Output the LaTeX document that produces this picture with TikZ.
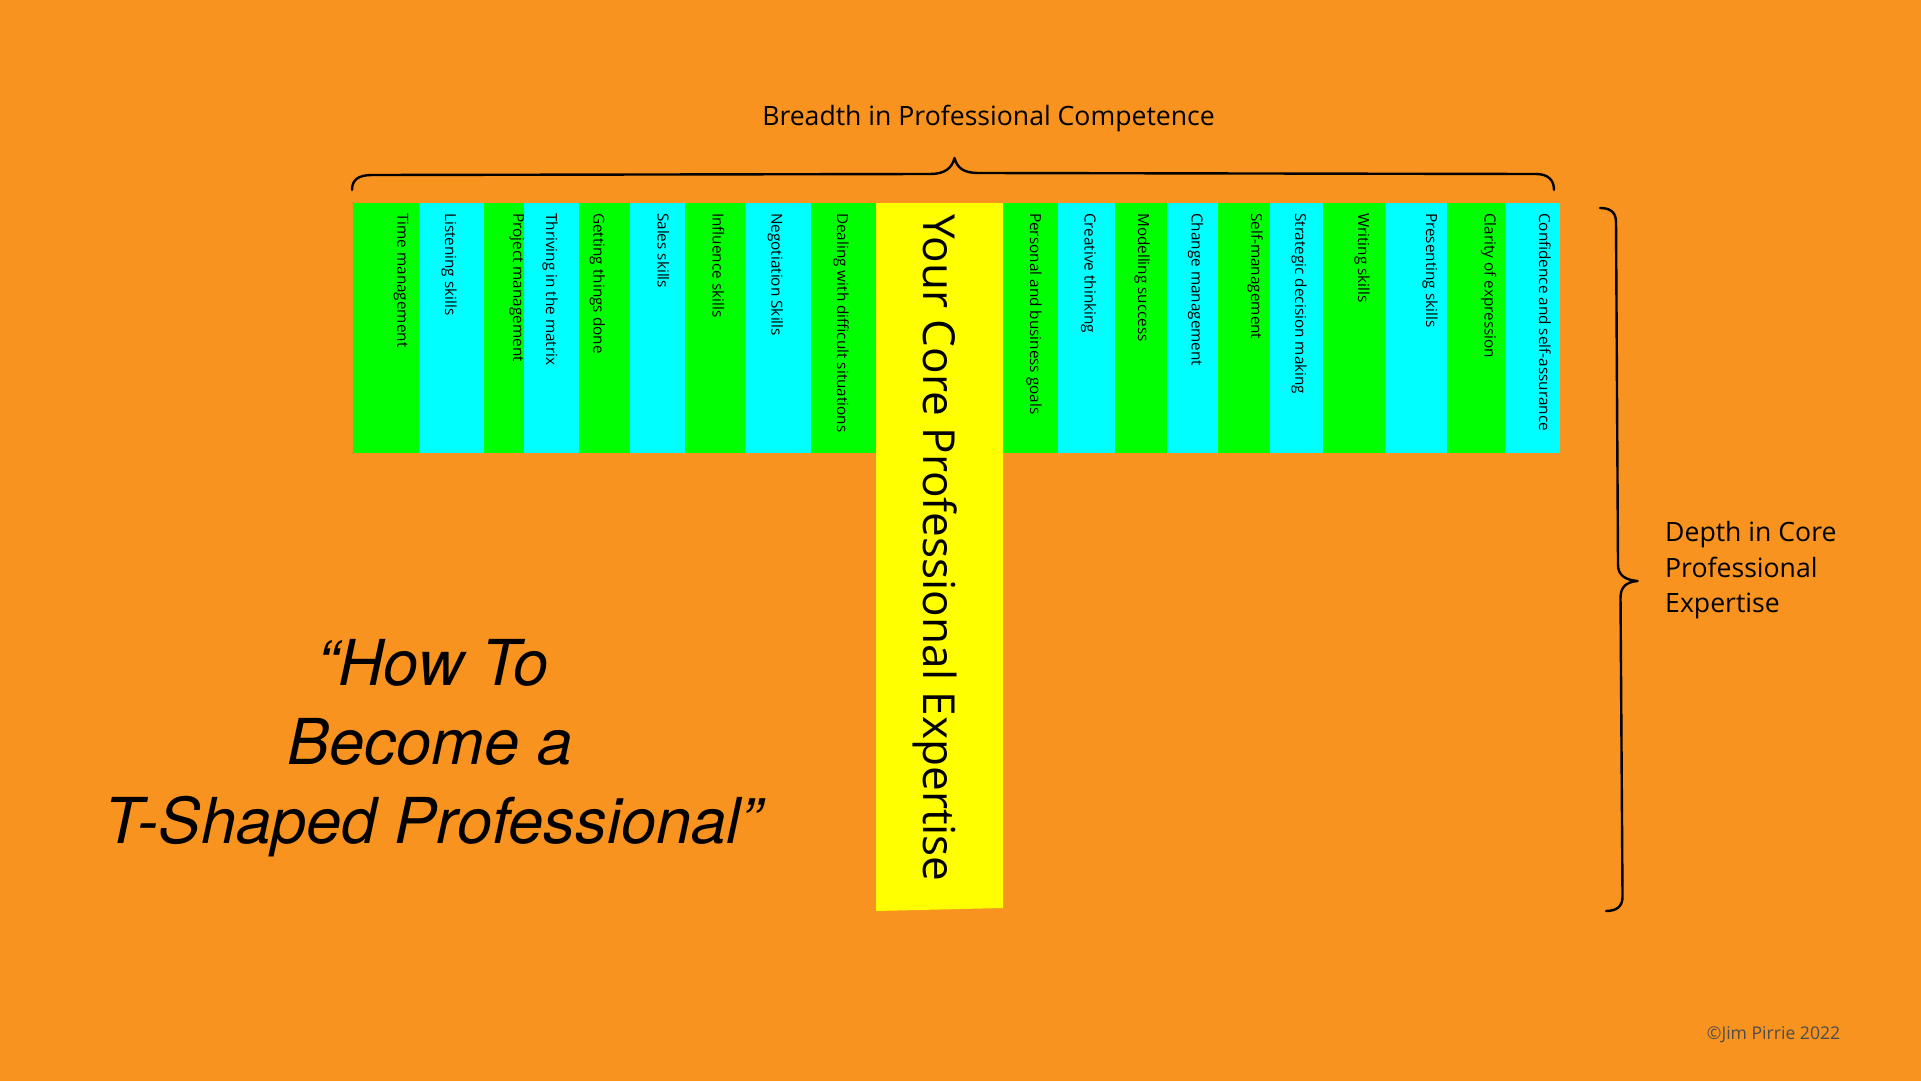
\documentclass[tikz,border=0pt]{standalone}
\usepackage{fontspec}
\setmainfont{Open Sans}
\newfontfamily\herosfont{TeX Gyre Heros}
\definecolor{bgorange}{HTML}{F8931F}
\definecolor{sgreen}{HTML}{00FF00}
\definecolor{scyan}{HTML}{00FFFF}
\definecolor{syellow}{HTML}{FFFF00}
\definecolor{copygray}{HTML}{4D4D4D}
\begin{document}
\begin{tikzpicture}[x=1pt,y=-1pt,
  striplabel/.style={rotate=-90,anchor=base west,inner sep=0pt,font=\fontsize{15.3}{18}\selectfont},
  bracepath/.style={draw=black,line width=2.4pt,line cap=round,line join=round},
  titletext/.style={inner sep=0pt,font=\fontsize{26.6}{32}\selectfont},
  bigtitle/.style={anchor=base,inner sep=0pt,font=\herosfont\itshape\fontsize{63.3}{79}\selectfont}]
\useasboundingbox (0,0) rectangle (1921,1081);
\fill[bgorange] (0,0) rectangle (1921,1081);
% left strips
\fill[sgreen] (352.5,203) rectangle (418.5,453);
\fill[scyan]  (418.5,203) rectangle (483.5,453);
\fill[sgreen] (483.5,203) rectangle (523.5,453);
\fill[scyan]  (523.5,203) rectangle (579,453);
\fill[sgreen] (579,203) rectangle (630,453);
\fill[scyan]  (630,203) rectangle (685,453);
\fill[sgreen] (685,203) rectangle (745,453);
\fill[scyan]  (745,203) rectangle (810.5,453);
\fill[sgreen] (810.5,203) rectangle (876,453);
% right strips
\fill[sgreen] (1003,203) rectangle (1057.5,453);
\fill[scyan]  (1057.5,203) rectangle (1115,453);
\fill[sgreen] (1115,203) rectangle (1166.5,453);
\fill[scyan]  (1166.5,203) rectangle (1218,453);
\fill[sgreen] (1218,203) rectangle (1269.5,453);
\fill[scyan]  (1269.5,203) rectangle (1323,453);
\fill[sgreen] (1323,203) rectangle (1384.5,453);
\fill[scyan]  (1384.5,203) rectangle (1447,453);
\fill[sgreen] (1447,203) rectangle (1505,453);
\fill[scyan]  (1505,203) rectangle (1560,453);
% core
\fill[syellow] (876,203) -- (1003,203) -- (1003,908) -- (876,911) -- cycle;
% strip labels
\foreach \bx/\txt [count=\i] in {
  397.4/Time management, 445/Listening skills, 513/Project management,
  546/Thriving in the matrix, 593.4/Getting things done, 657.6/Sales skills,
  712.5/Influence skills, 771.4/Negotiation Skills, 837/Dealing with difficult situations,
  1030/Personal and business goals, 1084.7/Creative thinking, 1138/Modelling success,
  1191.5/Change management, 1251/Self-management, 1295/Strategic decision making,
  1358/Writing skills, 1426/Presenting skills, 1484.5/Clarity of expression,
  1539/Confidence and self-assurance}
  \node[striplabel] (lab\i) at (\bx,213) {\txt};
\node[rotate=-90,anchor=base west,inner sep=0pt,font=\fontsize{44.1}{50}\selectfont] (core) at (923.5,214) {Your Core Professional Expertise};
% titles
\node[titletext,anchor=base] (breadth) at (988.5,125) {Breadth in Professional Competence};
\node[titletext,anchor=base west] (d1) at (1665,541.5) {Depth in Core};
\node[titletext,anchor=base west] (d2) at (1665,577) {Professional};
\node[titletext,anchor=base west] (d3) at (1665,612.5) {Expertise};
\node[bigtitle] (t1) at (433,685) {“How To};
\node[bigtitle] (t2) at (430,764) {Become a};
\node[bigtitle] (t3) at (433,843) {T-Shaped Professional”};
\node[anchor=base west,inner sep=0pt,text=copygray,font=\fontsize{17.6}{20}\selectfont] (copy) at (1706.7,1039) {©Jim Pirrie 2022};
% braces
\draw[bracepath] (352,190) .. controls (352,180) and (358,175) .. (372,175) -- (930,174)
  .. controls (945,174) and (952,168) .. (954.5,158)
  .. controls (957,168) and (964,173) .. (978,173) -- (1536,174)
  .. controls (1548,174) and (1554,180) .. (1554,190);
\draw[bracepath] (1600,208) .. controls (1610,208) and (1616,212) .. (1616,222) -- (1618,565)
  .. controls (1618,575) and (1625,580) .. (1637.5,581)
  .. controls (1625,582) and (1620.5,588) .. (1620.5,598) -- (1622.5,897)
  .. controls (1622.5,906) and (1617,911) .. (1606,911);
\end{tikzpicture}
\end{document}
